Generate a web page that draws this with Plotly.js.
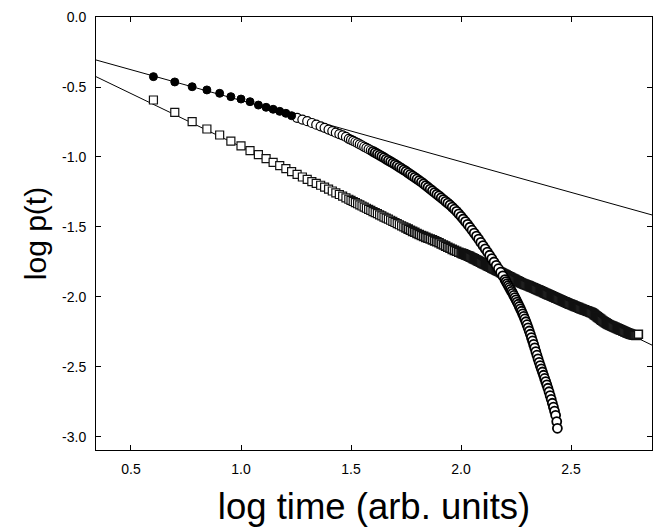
<!DOCTYPE html>
<html>
<head>
<meta charset="utf-8">
<script src="https://cdn.plot.ly/plotly-3.0.1.min.js"></script>
<style>html,body{margin:0;padding:0;background:#fff;}#chart{width:654px;height:527px;}</style>
</head>
<body>
<div id="chart"></div>
<script>
// log time values and log p(t) values
const filledX = [0.602,0.699,0.778,0.845,0.903,0.954,1.000,1.041,1.079,1.114,1.146,1.176,1.204,1.230];
const filledY = [-0.426,-0.464,-0.498,-0.521,-0.545,-0.569,-0.586,-0.605,-0.629,-0.645,-0.659,-0.674,-0.688,-0.705];

const openCircX = [1.255,1.279,1.301,1.322,1.342,1.362,1.380,1.398,1.415,1.431,1.447,1.462,1.477,
 1.49,1.50,1.51,1.52,1.53,1.54,1.55,1.56,1.57,1.58,1.59,1.60,1.61,1.62,1.63,1.64,1.65,1.66,1.67,1.68,1.69,
 1.70,1.71,1.72,1.73,1.74,1.75,1.76,1.77,1.78,1.79,1.80,1.81,1.82,1.83,1.84,1.85,1.86,1.87,1.88,1.89,
 1.90,1.91,1.92,1.93,1.94,1.95,1.96,1.97,1.98,1.99,2.00,2.01,2.02,2.03,2.04,2.05,2.06,2.07,2.08,2.09,
 2.10,2.11,2.12,2.13,2.14,2.15,2.16,2.17,2.18,2.19,2.20,
 2.205,2.210,2.215,2.220,2.225,2.230,2.235,2.240,2.245,2.250,2.255,2.260,2.265,2.270,2.275,2.280,2.285,2.290,2.295,
 2.300,2.305,2.310,2.315,2.320,2.325,2.330,2.335,2.340,2.345,2.350,2.355,2.360,2.365,2.370,2.375,2.380,2.385,2.390,2.395,
 2.400,2.405,2.410,2.415,2.420,2.425,2.430,2.435,2.438];
const openCircY = [-0.720,-0.733,-0.744,-0.757,-0.769,-0.781,-0.792,-0.804,-0.815,-0.826,-0.836,-0.845,-0.857,
 -0.870,-0.878,-0.885,-0.893,-0.901,-0.910,-0.918,-0.927,-0.935,-0.944,-0.952,-0.960,-0.969,-0.978,-0.987,-0.996,-1.005,-1.015,-1.024,-1.033,-1.043,
 -1.052,-1.062,-1.072,-1.082,-1.092,-1.102,-1.113,-1.124,-1.135,-1.146,-1.157,-1.168,-1.179,-1.191,-1.204,-1.216,-1.229,-1.241,-1.254,-1.266,
 -1.278,-1.291,-1.304,-1.317,-1.330,-1.343,-1.358,-1.373,-1.388,-1.406,-1.424,-1.443,-1.462,-1.481,-1.502,-1.523,-1.544,-1.565,-1.587,-1.610,
 -1.633,-1.656,-1.679,-1.702,-1.726,-1.750,-1.774,-1.798,-1.823,-1.849,-1.876,
 -1.890,-1.904,-1.918,-1.932,-1.946,-1.960,-1.974,-1.989,-2.004,-2.020,-2.036,-2.052,-2.068,-2.085,-2.102,-2.120,-2.138,-2.157,-2.177,
 -2.198,-2.220,-2.243,-2.266,-2.290,-2.314,-2.339,-2.364,-2.390,-2.416,-2.442,-2.467,-2.490,-2.513,-2.536,-2.559,-2.582,-2.605,-2.628,-2.652,
 -2.677,-2.704,-2.731,-2.759,-2.787,-2.815,-2.845,-2.890,-2.938];

const squareX = [0.602,0.699,0.778,0.845,0.903,0.954,1.000,1.041,1.079,1.114,1.146,1.176,1.204,1.230,
 1.255,1.279,1.301,1.322,1.342,1.362,1.380,1.398,1.415,1.431,1.447,1.462,1.477,
 1.49,1.50,1.51,1.52,1.53,1.54,1.55,1.56,1.57,1.58,1.59,1.60,1.61,1.62,1.63,1.64,1.65,1.66,1.67,1.68,1.69,
 1.70,1.71,1.72,1.73,1.74,1.75,1.76,1.77,1.78,1.79,1.80,1.81,1.82,1.83,1.84,1.85,1.86,1.87,1.88,1.89,
 1.90,1.91,1.92,1.93,1.94,1.95,1.96,1.97,1.98,1.99,2.00,
 2.005,2.010,2.015,2.020,2.025,2.030,2.035,2.040,2.045,2.050,2.055,2.060,2.065,2.070,2.075,2.080,2.085,2.090,2.095,
 2.100,2.105,2.110,2.115,2.120,2.125,2.130,2.135,2.140,2.145,2.150,2.155,2.160,2.165,2.170,2.175,2.180,2.185,2.190,2.195,
 2.200,2.205,2.210,2.215,2.220,2.225,2.230,2.235,2.240,2.245,2.250,2.255,2.260,2.265,2.270,2.275,2.280,2.285,2.290,2.295,
 2.300,2.305,2.310,2.315,2.320,2.325,2.330,2.335,2.340,2.345,2.350,2.355,2.360,2.365,2.370,2.375,2.380,2.385,2.390,2.395,
 2.400,2.405,2.410,2.415,2.420,2.425,2.430,2.435,2.440,2.445,2.450,2.455,2.460,2.465,2.470,2.475,2.480,2.485,2.490,2.495,
 2.500,2.505,2.510,2.515,2.520,2.525,2.530,2.535,2.540,2.545,2.550,2.555,2.560,2.565,2.570,2.575,2.580,2.585,2.590,2.595,
 2.600,2.605,2.610,2.615,2.620,2.625,2.630,2.635,2.640,2.645,2.650,2.655,2.660,2.665,2.670,2.675,2.680,2.685,2.690,2.695,
 2.700,2.705,2.710,2.715,2.720,2.725,2.730,2.735,2.740,2.745,2.750,2.755,2.760,2.765,2.770,2.775,2.780,2.785,2.790,2.795,
 2.800,2.806];
const squareY = [-0.593,-0.681,-0.748,-0.800,-0.843,-0.886,-0.921,-0.955,-0.983,-1.012,-1.038,-1.062,-1.083,-1.105,
 -1.124,-1.143,-1.160,-1.176,-1.189,-1.202,-1.215,-1.229,-1.243,-1.256,-1.268,-1.280,-1.292,
 -1.302,-1.310,-1.318,-1.326,-1.334,-1.342,-1.350,-1.358,-1.366,-1.374,-1.382,-1.390,-1.398,-1.405,-1.413,-1.421,-1.429,-1.437,-1.444,-1.452,-1.460,
 -1.468,-1.476,-1.484,-1.492,-1.499,-1.507,-1.515,-1.523,-1.531,-1.538,-1.546,-1.554,-1.561,-1.567,-1.574,-1.580,-1.586,-1.592,-1.599,-1.605,
 -1.613,-1.621,-1.629,-1.637,-1.645,-1.652,-1.660,-1.667,-1.673,-1.680,-1.686,
 -1.689,-1.692,-1.695,-1.699,-1.702,-1.705,-1.708,-1.712,-1.716,-1.720,-1.724,-1.728,-1.732,-1.736,-1.740,-1.744,-1.748,-1.752,-1.756,
 -1.760,-1.764,-1.768,-1.772,-1.776,-1.780,-1.784,-1.788,-1.792,-1.796,-1.800,-1.804,-1.808,-1.812,-1.816,-1.820,-1.824,-1.828,-1.832,-1.836,
 -1.840,-1.844,-1.848,-1.852,-1.856,-1.860,-1.864,-1.868,-1.872,-1.876,-1.880,-1.884,-1.888,-1.892,-1.896,-1.900,-1.904,-1.907,-1.910,-1.913,
 -1.916,-1.919,-1.922,-1.926,-1.929,-1.932,-1.935,-1.939,-1.942,-1.946,-1.949,-1.953,-1.956,-1.960,-1.963,-1.967,-1.971,-1.974,-1.978,-1.981,
 -1.985,-1.988,-1.992,-1.995,-1.999,-2.002,-2.006,-2.009,-2.013,-2.016,-2.020,-2.023,-2.027,-2.030,-2.034,-2.037,-2.041,-2.044,-2.048,-2.051,
 -2.054,-2.057,-2.060,-2.064,-2.067,-2.070,-2.073,-2.076,-2.080,-2.083,-2.086,-2.089,-2.092,-2.095,-2.098,-2.101,-2.104,-2.107,-2.110,-2.113,
 -2.118,-2.124,-2.130,-2.136,-2.142,-2.148,-2.154,-2.160,-2.166,-2.172,-2.177,-2.182,-2.187,-2.192,-2.196,-2.200,-2.204,-2.207,-2.210,-2.214,
 -2.217,-2.221,-2.224,-2.228,-2.231,-2.235,-2.238,-2.242,-2.245,-2.249,-2.252,-2.256,-2.259,-2.262,-2.265,-2.268,-2.270,-2.272,-2.273,-2.274,
 -2.273,-2.266];

// power-law fit lines (two end points each)
const fitX = [0.30, 2.90];
const fit1Y = [-0.289, -1.428];
const fit2Y = [-0.395, -2.368];

// axis ticks
const xTickVals = [0.5, 1.0, 1.5, 2.0, 2.5];
const xTickText = ['0.5', '1.0', '1.5', '2.0', '2.5'];
const yTickVals = [0.0, -0.5, -1.0, -1.5, -2.0, -2.5, -3.0];
const yTickText = ['0.0', '-0.5', '-1.0', '-1.5', '-2.0', '-2.5', '-3.0'];

const FONT = '"Liberation Sans", Arial, Helvetica, sans-serif';

// dense, overlapping markers further along the curves are drawn with a slightly heavier outline
const sqLineW = squareX.map(v => (v >= 1.75 ? 1.6 : 1.2));
const ocLineW = openCircX.map(v => (v >= 1.6 ? 1.8 : 1.2));

const traces = [
  {x: fitX, y: fit1Y, mode: 'lines', line: {color: '#000', width: 1}, hoverinfo: 'skip'},
  {x: fitX, y: fit2Y, mode: 'lines', line: {color: '#000', width: 1}, hoverinfo: 'skip'},
  {x: squareX, y: squareY, mode: 'markers',
   marker: {symbol: 'square', size: 8, color: '#fff', line: {color: '#111', width: sqLineW}}},
  {x: openCircX, y: openCircY, mode: 'markers',
   marker: {symbol: 'circle', size: 9, color: '#fff', line: {color: '#000', width: ocLineW}}},
  {x: filledX, y: filledY, mode: 'markers',
   marker: {symbol: 'circle', size: 8, color: '#000', line: {color: '#000', width: 1}}}
];

const axisCommon = {
  showline: true, mirror: 'ticks', linecolor: '#000', linewidth: 1,
  ticks: 'inside', ticklen: 5, tickwidth: 1, tickcolor: '#000',
  showgrid: false, zeroline: false,
  tickfont: {family: FONT, size: 14, color: '#000'}
};

const layout = {
  width: 654, height: 527,
  margin: {l: 96, r: 2, t: 17, b: 77},
  paper_bgcolor: '#fff', plot_bgcolor: '#fff',
  showlegend: false,
  font: {family: FONT, color: '#000'},
  xaxis: Object.assign({}, axisCommon, {
    range: [0.341, 2.868],
    tickmode: 'array', tickvals: xTickVals, ticktext: xTickText,
    ticklabelstandoff: 6,
    title: {text: 'log time (arb. units)', font: {family: FONT, size: 36.5, color: '#000'}, standoff: 20}
  }),
  yaxis: Object.assign({}, axisCommon, {
    range: [-3.093, 0],
    tickmode: 'array', tickvals: yTickVals, ticktext: yTickText,
    ticklabelstandoff: 6,
    title: {text: 'log p(t)', font: {family: FONT, size: 30, color: '#000'}, standoff: 6}
  })
};

Plotly.newPlot('chart', traces, layout, {displayModeBar: false, staticPlot: true});
</script>
</body>
</html>
